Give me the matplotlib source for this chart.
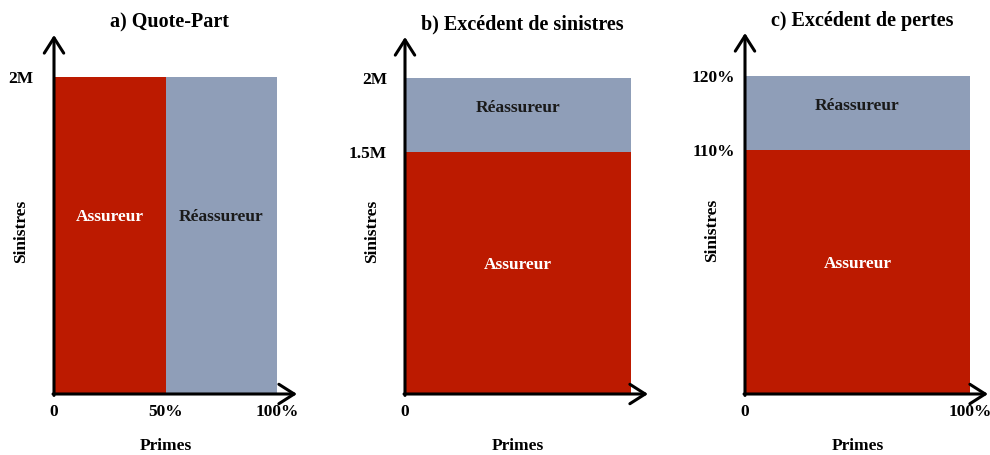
#!/usr/bin/env python3
"""Schémas de réassurance : quote-part, excédent de sinistres, excédent de pertes."""

import matplotlib.pyplot as plt
import numpy as np

plt.rcParams["font.family"] = ["Liberation Serif", "DejaVu Serif"]
plt.rcParams["font.weight"] = "bold"

RED = "#BC1A00"
GREY = "#8F9EB8"

TITLES = ["a) Quote-Part", "b) Excédent de sinistres", "c) Excédent de pertes"]
X_LABEL = "Primes"
Y_LABEL = "Sinistres"

# a) quote-part : partage des primes, plafond de sinistres (M)
QP_SPLIT = [0, 50]            # début de chaque part (% primes)
QP_SHARES = [50, 50]          # largeur de chaque part (% primes)
QP_LIMIT = 2.0                # M
QP_XTICKS = [0, 50, 100]
QP_XLABELS = ["0", "50%", "100%"]
QP_YTICKS = [2.0]
QP_YLABELS = ["2M"]

# b) excédent de sinistres (M)
XL_RETENTION = 1.5
XL_LIMIT = 2.0
XL_XTICKS = [0]
XL_XLABELS = ["0"]
XL_YLABELS = ["1.5M", "2M"]

# c) excédent de pertes (% des primes)
SL_RETENTION = 110
SL_LIMIT = 120
SL_XTICKS = [0, 100]
SL_XLABELS = ["0", "100%"]
SL_YLABELS = ["110%", "120%"]

# le schéma n'est pas à l'échelle : la priorité est dessinée à ~77 % du plafond
SPLIT_FRAC = 0.766


def schematic(retention, limit):
    """Échelle par morceaux : 0 -> 0, priorité -> SPLIT_FRAC, plafond -> 1."""
    d = [0, retention, limit, 2 * limit - retention]
    s = [0, SPLIT_FRAC, 1, 2 - SPLIT_FRAC]
    return (lambda v: np.interp(v, d, s)), (lambda v: np.interp(v, s, d))


def px(left, top, right, bottom, W=990, H=455):
    return [left / W, (H - bottom) / H, (right - left) / W, (bottom - top) / H]


def frame(ax, title, ymid, ypad):
    ax.set_facecolor("none")
    for s in ax.spines.values():
        s.set_visible(False)
    arrow = dict(arrowstyle="->,head_length=0.55,head_width=0.35", lw=2.2,
                 color="black", shrinkA=0, shrinkB=0, mutation_scale=20)
    ax.annotate("", xy=(1, 0), xytext=(-0.004, 0), xycoords="axes fraction",
                arrowprops=arrow, zorder=5)
    ax.annotate("", xy=(0, 1), xytext=(0, -0.004), xycoords="axes fraction",
                arrowprops=arrow, zorder=5)
    ax.tick_params(which="both", length=0, labelsize=12.5)
    ax.tick_params(axis="y", pad=ypad)
    ax.tick_params(axis="x", pad=7.5)
    ax.minorticks_off()
    ax.annotate(title, xy=(52, 1), xycoords=("data", "axes fraction"),
                xytext=(0, 9), textcoords="offset points",
                ha="center", va="center", fontsize=14.5, fontweight="bold")
    ax.annotate(X_LABEL, xy=(50, 0), xycoords=("data", "axes fraction"),
                xytext=(0, -37.5), textcoords="offset points",
                ha="center", va="center", fontsize=12.5, fontweight="bold")
    ax.annotate(Y_LABEL, xy=(0, ymid), xycoords=("axes fraction", "data"),
                xytext=(-24, 3), textcoords="offset points", rotation=90,
                ha="center", va="center", fontsize=12.5, fontweight="bold")


def label(ax, text, x, y, dy, color):
    ax.annotate(text, xy=(x, y), xytext=(0, dy), textcoords="offset points",
                ha="center", va="center", fontsize=12.5, fontweight="bold",
                color=color, zorder=4)


def stacked(ax, retention, limit, ylabels, xticks, xlabels, bar_w, top_px,
            title, ypad):
    fwd, inv = schematic(retention, limit)
    ax.set_yscale("function", functions=(fwd, inv))
    ax.bar(0, retention, width=100, align="edge", color=RED, linewidth=0)
    ax.bar(0, limit - retention, bottom=retention, width=100,
           align="edge", color=GREY, linewidth=0)
    ax.set_xlim(0, 100 * 243 / bar_w)
    ax.set_ylim(0, float(inv(top_px)))
    ax.set_xticks(xticks, xlabels)
    ax.set_yticks([retention, limit], ylabels)
    frame(ax, title, float(inv(0.5)), ypad)
    label(ax, "Assureur", 50, float(inv(SPLIT_FRAC / 2)), 6, "white")
    label(ax, "Réassureur", 50, float(inv((SPLIT_FRAC + 1) / 2)), 5, "#1a1a1a")


def main() -> None:
    fig = plt.figure(figsize=(9.9, 4.55), dpi=100)

    # a) Quote-Part
    ax = fig.add_axes(px(54, 35, 297, 394))
    ax.bar(QP_SPLIT, [QP_LIMIT] * 2, width=QP_SHARES, align="edge",
           color=[RED, GREY], linewidth=0)
    ax.set_xlim(0, 100 * 243 / 223)
    ax.set_ylim(0, QP_LIMIT * 359 / 317)
    ax.set_xticks(QP_XTICKS, QP_XLABELS)
    ax.set_yticks(QP_YTICKS, QP_YLABELS)
    frame(ax, TITLES[0], QP_LIMIT / 2, 15)
    label(ax, "Assureur", QP_SPLIT[0] + QP_SHARES[0] / 2, QP_LIMIT / 2, 13, "white")
    label(ax, "Réassureur", QP_SPLIT[1] + QP_SHARES[1] / 2, QP_LIMIT / 2, 13, "#1a1a1a")

    # b) Excédent de sinistres
    ax = fig.add_axes(px(405, 37, 648, 394))
    stacked(ax, XL_RETENTION, XL_LIMIT, XL_YLABELS, XL_XTICKS, XL_XLABELS,
            226, 357 / 316, TITLES[1], 13)

    # c) Excédent de pertes
    ax = fig.add_axes(px(745, 33, 988, 394))
    stacked(ax, SL_RETENTION, SL_LIMIT, SL_YLABELS, SL_XTICKS, SL_XLABELS,
            225, 361 / 318, TITLES[2], 7)

    fig.savefig("out.png", dpi=100, facecolor="white")
    plt.close(fig)


if __name__ == "__main__":
    main()
